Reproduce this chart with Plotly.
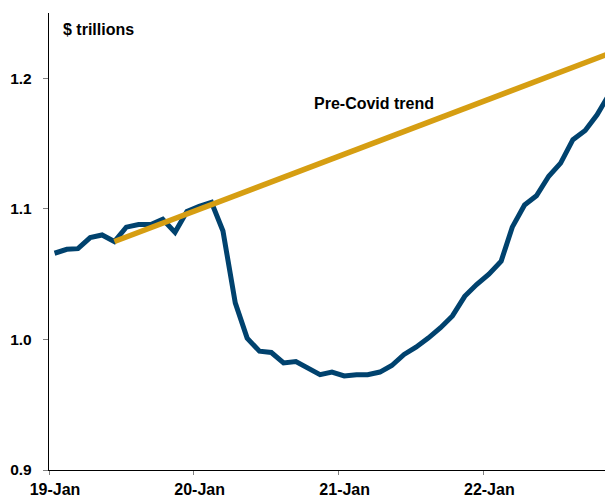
import plotly.graph_objects as go

# ---- data ----
months = [
    "2019-01-15", "2019-02-15", "2019-03-15", "2019-04-15", "2019-05-15", "2019-06-15",
    "2019-07-15", "2019-08-15", "2019-09-15", "2019-10-15", "2019-11-15", "2019-12-15",
    "2020-01-15", "2020-02-15", "2020-03-15", "2020-04-15", "2020-05-15", "2020-06-15",
    "2020-07-15", "2020-08-15", "2020-09-15", "2020-10-15", "2020-11-15", "2020-12-15",
    "2021-01-15", "2021-02-15", "2021-03-15", "2021-04-15", "2021-05-15", "2021-06-15",
    "2021-07-15", "2021-08-15", "2021-09-15", "2021-10-15", "2021-11-15", "2021-12-15",
    "2022-01-15", "2022-02-15", "2022-03-15", "2022-04-15", "2022-05-15", "2022-06-15",
    "2022-07-15", "2022-08-15", "2022-09-15", "2022-10-15", "2022-11-15",
]
actual = [
    1.066, 1.069, 1.0695, 1.078, 1.080, 1.075,
    1.086, 1.088, 1.088, 1.092, 1.082, 1.098,
    1.102, 1.105, 1.083, 1.028, 1.001, 0.991,
    0.990, 0.982, 0.983, 0.978, 0.973, 0.975,
    0.972, 0.973, 0.973, 0.975, 0.980, 0.9885,
    0.994, 1.001, 1.009, 1.018, 1.033, 1.042,
    1.050, 1.060, 1.086, 1.103, 1.110, 1.125,
    1.135, 1.153, 1.160, 1.172, 1.188,
]
trend_dates = ["2019-06-15", "2022-11-15"]
trend_values = [1.075, 1.219]

x_tickvals = ["2019-01-01", "2020-01-01", "2021-01-01", "2022-01-01"]
x_ticktext = ["19-Jan", "20-Jan", "21-Jan", "22-Jan"]
y_tickvals = [0.9, 1.0, 1.1, 1.2]
y_ticktext = ["0.9", "1.0", "1.1", "1.2"]

BLUE = "#00426E"
GOLD = "#D69E12"
FONT = "Liberation Sans"

fig = go.Figure()
fig.add_trace(go.Scatter(x=months, y=actual, mode="lines",
                         line=dict(color=BLUE, width=5), showlegend=False))
fig.add_trace(go.Scatter(x=trend_dates, y=trend_values, mode="lines",
                         line=dict(color=GOLD, width=5.5), showlegend=False))

fig.update_layout(
    width=605, height=498,
    margin=dict(l=49, r=0, t=13, b=26),
    paper_bgcolor="white", plot_bgcolor="white",
    font=dict(family=FONT, size=16, color="black"),
    xaxis=dict(
        type="date", range=["2019-01-01", "2022-11-04"],
        tickmode="array", tickvals=x_tickvals, ticktext=x_ticktext,
        showgrid=False, zeroline=False,
        showline=True, linecolor="black", linewidth=1.3,
        ticks="outside", ticklen=4, tickcolor="#808080", tickwidth=1,
        tickfont=dict(family=FONT, size=16, color="black", weight="bold"),
        ticklabelshift=6, ticklabelstandoff=1,
    ),
    yaxis=dict(
        range=[0.9, 1.25],
        tickmode="array", tickvals=y_tickvals, ticktext=y_ticktext,
        showgrid=False, zeroline=False,
        showline=True, linecolor="black", linewidth=1.3,
        ticks="outside", ticklen=5, tickcolor="#808080", tickwidth=1,
        tickfont=dict(family=FONT, size=15.5, color="black", weight="bold"),
        ticklabelstandoff=8,
    ),
    annotations=[
        dict(text="<b>$ trillions</b>", xref="paper", yref="paper",
             x=(61 - 48.7) / (605 - 48.7), y=(471.7 - 30) / (471.7 - 13),
             xanchor="left", yanchor="middle", showarrow=False,
             font=dict(family=FONT, size=16, color="black")),
        dict(text="<b>Pre-Covid trend</b>", xref="paper", yref="paper",
             x=(312 - 48.7) / (605 - 48.7), y=(471.7 - 104) / (471.7 - 13),
             xanchor="left", yanchor="middle", showarrow=False,
             font=dict(family=FONT, size=16, color="black")),
    ],
)

fig.write_html("out.html")
